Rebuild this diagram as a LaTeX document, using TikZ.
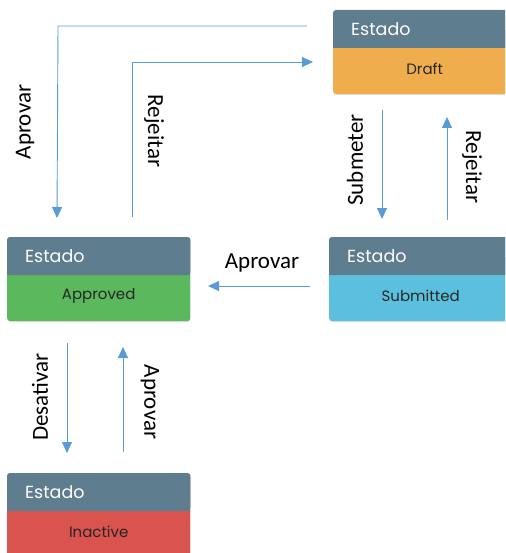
\documentclass[tikz,border=0pt]{standalone}
\usepackage{fontspec}
\setmainfont{Carlito}
\newfontfamily\boxfont{Poppins}
\usetikzlibrary{arrows.meta,calc,shadows}
\definecolor{hdrc}{HTML}{5E7D8F}
\definecolor{draftc}{HTML}{F0AD4E}
\definecolor{apprc}{HTML}{5CB85C}
\definecolor{submc}{HTML}{5BC0DE}
\definecolor{inacc}{HTML}{D9534F}
\definecolor{arrc}{HTML}{5B9BD5}
\tikzset{
  statebox/.style={draw=none, rounded corners=3pt, minimum width=183pt, minimum height=84pt,
    anchor=north west, inner sep=0pt,
    drop shadow={shadow xshift=0.5pt, shadow yshift=-0.6pt, opacity=0.2, fill=black!60}},
  hdrtext/.style={text=white, font=\boxfont\fontsize{17.5}{19}\selectfont, anchor=west, inner sep=0pt},
  bodytext/.style={text=black!85, font=\boxfont\fontsize{15}{17}\selectfont, inner sep=0pt},
  arr/.style={draw=arrc, line width=0.9pt, -{Triangle[width=10pt,length=11pt]}},
  lbl/.style={font=\fontsize{23}{25}\selectfont, inner sep=0pt}
}
\newcommand{\headerfill}[1]{%
  \fill[hdrc, rounded corners=3pt] (#1.north west) rectangle ($(#1.north east)+(0,38)$);
  \fill[hdrc] ($(#1.north west)+(0,20)$) rectangle ($(#1.north east)+(0,38)$);}
\begin{document}
\begin{tikzpicture}[x=1pt,y=-1pt]
\useasboundingbox (0,0) rectangle (505,553);
\clip (0,0) rectangle (505,553);
% boxes
\node[statebox, fill=draftc] (draft) at (333,10) {};
\node[statebox, fill=submc] (subm) at (329,237) {};
\node[statebox, fill=apprc] (appr) at (7,237) {};
\node[statebox, fill=inacc] (inac) at (7,473) {};
\headerfill{draft}
\headerfill{subm}
\headerfill{appr}
\headerfill{inac}
% header texts
\node[hdrtext] (draftH) at ($(draft.north west)+(18,19)$) {Estado};
\node[hdrtext] (submH) at ($(subm.north west)+(18,19)$) {Estado};
\node[hdrtext] (apprH) at ($(appr.north west)+(18,19)$) {Estado};
\node[hdrtext] (inacH) at ($(inac.north west)+(18,19)$) {Estado};
% body texts
\node[bodytext] (draftT) at ($(draft.north)+(0,59)$) {Draft};
\node[bodytext] (submT) at ($(subm.north)+(0,59)$) {Submitted};
\node[bodytext] (apprT) at ($(appr.north)+(0,59)$) {Approved};
\node[bodytext] (inacT) at ($(inac.north)+(0,59)$) {Inactive};
% connector coordinates
\coordinate (a1s) at (307,26);
\coordinate (a1c) at (58,26);
\coordinate (a1e) at (57,218);
\coordinate (a2s) at (132,217);
\coordinate (a2c) at (132,62);
\coordinate (a2e) at (313,62);
\coordinate (a3s) at (382,110);
\coordinate (a3e) at (382,219);
\coordinate (a4s) at (447,220);
\coordinate (a4e) at (447,117);
\coordinate (a5s) at (310,286);
\coordinate (a5e) at (208,286);
\coordinate (a6s) at (67,343);
\coordinate (a6e) at (67,453);
\coordinate (a7s) at (123,452);
\coordinate (a7e) at (123,347);
% connectors
\draw[arr] (a1s) -- (a1c) -- (a1e);
\draw[arr] (a2s) -- (a2c) -- (a2e);
\draw[arr] (a3s) -- (a3e);
\draw[arr] (a4s) -- (a4e);
\draw[arr] (a5s) -- (a5e);
\draw[arr] (a6s) -- (a6e);
\draw[arr] (a7s) -- (a7e);
% labels
\node[lbl, rotate=90] (l1) at (25,122) {Aprovar};
\node[lbl, rotate=-90] (l2) at (154,131) {Rejeitar};
\node[lbl, rotate=90] (l3) at (355,160) {Submeter};
\node[lbl, rotate=-90] (l4) at (472,167) {Rejeitar};
\node[lbl] (l5) at (262,263) {Aprovar};
\node[lbl, rotate=90] (l6) at (40,397) {Desativar};
\node[lbl, rotate=-90] (l7) at (150,402) {Aprovar};
\end{tikzpicture}
\end{document}
